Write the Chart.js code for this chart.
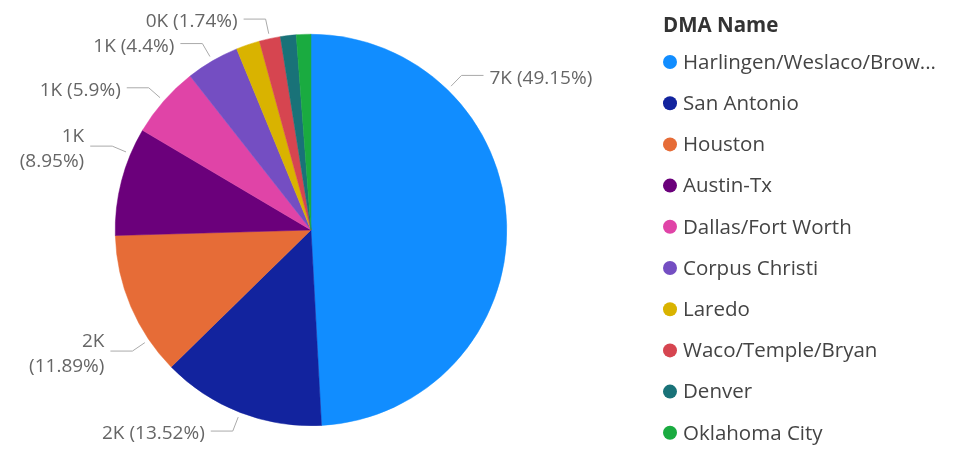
<!DOCTYPE html>
<html>
<head>
<meta charset="utf-8">
<script src="https://cdn.jsdelivr.net/npm/chart.js@4.4.1/dist/chart.umd.min.js"></script>
<style>
  html, body { margin: 0; padding: 0; background: #fff; }
  #wrap { width: 955px; height: 449px; }
</style>
</head>
<body>
<div id="wrap"><canvas id="byDma"></canvas></div>
<script>
const legendTitle = 'DMA Name'
const dmaNames = [
  'Harlingen/Weslaco/Brownsville/McAllen', 'San Antonio', 'Houston', 'Austin-Tx',
  'Dallas/Fort Worth', 'Corpus Christi', 'Laredo', 'Waco/Temple/Bryan', 'Denver', 'Oklahoma City'
]
const dmaCounts = [7028, 1933, 1700, 1280, 844, 629, 279, 249, 186, 172]
const dmaColors = [
  '#118DFF', '#12239E', '#E66C37', '#6B007B', '#E044A7',
  '#744EC2', '#D9B300', '#D64550', '#197278', '#1AAB40'
]

const total = dmaCounts.reduce((a, b) => a + b, 0)
const fontFamily = "'Segoe UI', 'Open Sans', sans-serif"

function labelParts(v) {
  const pct = parseFloat((v / total * 100).toFixed(2))
  return [Math.round(v / 1000) + 'K', '(' + pct + '%)']
}

// outside labels with leader lines, Power BI style
const pieLabels = {
  id: 'pieLabels',
  afterDatasetsDraw(chart, args, opts) {
    const ctx = chart.ctx
    const meta = chart.getDatasetMeta(0)
    const placed = []
    ctx.save()
    ctx.font = opts.font
    meta.data.forEach((arc, i) => {
      const p = arc.getProps(['x', 'y', 'startAngle', 'endAngle', 'outerRadius'])
      const f = opts.anchor[i] ?? 0.5
      const a = p.startAngle + (p.endAngle - p.startAngle) * f
      const cos = Math.cos(a), sin = Math.sin(a)
      const r0 = p.outerRadius + 5, r1 = p.outerRadius + 20
      const x0 = p.x + cos * r0, y0 = p.y + sin * r0
      const x1 = p.x + cos * r1, y1 = p.y + sin * r1
      const dir = cos >= 0 ? 1 : -1
      const x2 = x1 + dir * 22
      const tx = x2 + dir * 6
      const parts = labelParts(dmaCounts[i])
      let lines = [parts.join(' ')]
      if (dir < 0 && tx - ctx.measureText(lines[0]).width < 12) lines = parts
      const lw = Math.max(...lines.map(l => ctx.measureText(l).width))
      const cy = y1 + 3
      const h = lines.length * opts.lineHeight
      // collision box uses the glyph height only
      const bh = h - opts.lineHeight + opts.size
      const box = {
        l: dir > 0 ? tx : tx - lw, r: dir > 0 ? tx + lw : tx,
        t: cy - bh / 2, b: cy + bh / 2
      }
      const hit = placed.some(q => box.l < q.r && box.r > q.l && box.t < q.b && box.b > q.t)
      if (hit) return
      placed.push(box)

      ctx.strokeStyle = opts.lineColor
      ctx.lineWidth = 1
      ctx.beginPath()
      ctx.moveTo(x0, y0)
      ctx.lineTo(x1, y1)
      ctx.lineTo(x2, y1)
      ctx.stroke()

      ctx.fillStyle = opts.color
      ctx.textAlign = dir > 0 ? 'left' : 'right'
      ctx.textBaseline = 'middle'
      lines.forEach((l, k) => {
        ctx.fillText(l, tx, cy - h / 2 + opts.lineHeight * (k + 0.5))
      })
    })
    ctx.restore()
  }
}

// legend on the right
const sideLegend = {
  id: 'sideLegend',
  afterDraw(chart, args, opts) {
    const ctx = chart.ctx
    ctx.save()
    ctx.textBaseline = 'middle'
    ctx.textAlign = 'left'
    ctx.font = opts.titleFont
    ctx.fillStyle = opts.titleColor
    ctx.fillText(legendTitle, opts.x, opts.titleY)
    ctx.font = opts.font
    const maxW = chart.width - opts.x - opts.textGap - 16
    dmaNames.forEach((name, i) => {
      const y = opts.top + i * opts.spacing
      ctx.fillStyle = dmaColors[i]
      ctx.beginPath()
      ctx.arc(opts.x + opts.dot, y, opts.dot, 0, Math.PI * 2)
      ctx.fill()
      let txt = name
      if (ctx.measureText(txt).width > maxW) {
        while (txt.length && ctx.measureText(txt + '...').width > maxW) txt = txt.slice(0, -1)
        txt += '...'
      }
      ctx.fillStyle = opts.color
      ctx.fillText(txt, opts.x + opts.textGap, y + 1)
    })
    ctx.restore()
  }
}

new Chart(document.getElementById('byDma'), {
  type: 'pie',
  data: {
    labels: dmaNames,
    datasets: [{
      data: dmaCounts,
      backgroundColor: dmaColors,
      borderColor: dmaColors,
      borderWidth: 0.5,
    }]
  },
  options: {
    responsive: true,
    maintainAspectRatio: false,
    animation: false,
    events: [],
    layout: {padding: {left: 115, right: 448, top: 34, bottom: 23}},
    plugins: {
      legend: {display: false},
      tooltip: {enabled: false},
      pieLabels: {
        font: '19px ' + fontFamily,
        size: 19,
        color: '#666666',
        lineColor: '#AAAAAA',
        lineHeight: 24.5,
        anchor: [0.25, 0.5, 0.24, 0.76],
      },
      sideLegend: {
        x: 663, titleY: 26, top: 62, spacing: 41.2, dot: 7, textGap: 20,
        titleFont: 'bold 20.5px ' + fontFamily, titleColor: '#333333',
        font: '20.5px ' + fontFamily, color: '#444444',
      },
    },
  },
  plugins: [pieLabels, sideLegend],
})
</script>
</body>
</html>
